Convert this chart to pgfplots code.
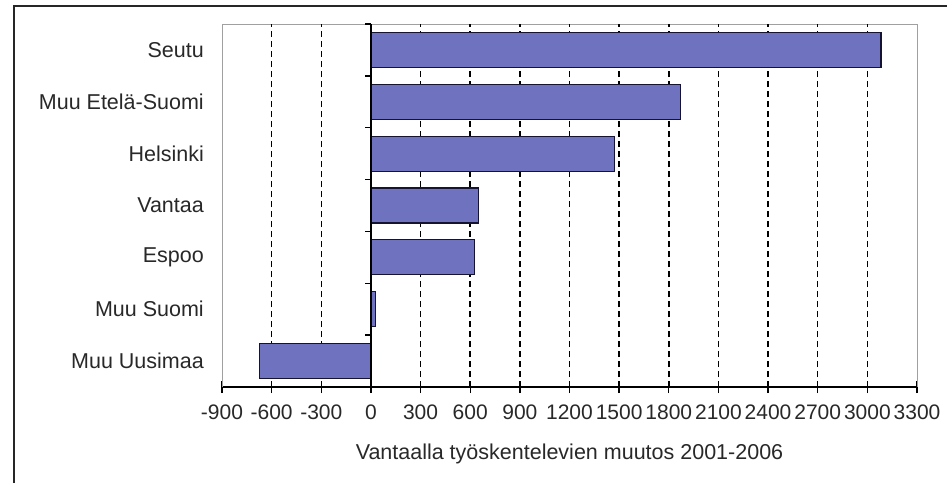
\documentclass[border=0pt]{standalone}
\usepackage{fontspec}
\setmainfont{Liberation Sans}
\usepackage{pgfplots}
\pgfplotsset{compat=1.18}
\definecolor{barfill}{RGB}{111,114,190}
\definecolor{barline}{RGB}{20,20,50}
\definecolor{framegray}{RGB}{160,160,160}
\definecolor{txt}{RGB}{40,40,40}
\begin{document}
\begin{tikzpicture}[font=\fontsize{21}{25}\selectfont]
\useasboundingbox (0,0) rectangle (947pt,483pt);
\draw[line width=1.3pt, black!85] (14pt,0pt) -- (14pt,477pt) -- (947pt,477pt);
\begin{axis}[
  at={(222pt,96pt)}, anchor=south west,
  scale only axis, width=695pt, height=363pt,
  xmin=-900, xmax=3300, ymin=-0.5, ymax=6.5,
  xbar, bar width=35pt, bar shift=0pt,
  axis x line=bottom, axis y line=left,
  x axis line style={line width=1.3pt, black, -},
  y axis line style={draw=none},
  xtick={-900,-600,...,3300},
  x tick style={line width=1.3pt, black},
  y tick style={draw=none},
  tick align=center, major tick length=12pt,
  /pgf/number format/assume math mode=true,
  /pgf/number format/1000 sep={},
  xticklabel style={yshift=-8pt, text=txt, font=\fontsize{21}{25}\selectfont},
  ytick={0,1,2,3,4,5,6},
  yticklabels={Muu Uusimaa, Muu Suomi, Espoo, Vantaa, Helsinki, Muu Etelä-Suomi, Seutu},
  yticklabel style={anchor=east, inner sep=0pt, xshift=-12pt, text=txt, font=\fontsize{21.5}{25}\selectfont},
  xlabel={Vantaalla työskentelevien muutos 2001-2006},
  xlabel style={yshift=-18pt, text=txt, font=\fontsize{21.5}{25}\selectfont},
  clip=false,
]
\draw[framegray, line width=1pt] (axis cs:-900,-0.5) -- (axis cs:-900,6.5) -- (axis cs:3300,6.5) -- (axis cs:3300,-0.5);
\pgfplotsinvokeforeach{-600,-300,300,600,900,1200,1500,1800,2100,2400,2700,3000}{
  \draw[black, line width=1.5pt, dash pattern=on 6pt off 4pt] (axis cs:#1,-0.5) -- (axis cs:#1,6.5);
}
\addplot[fill=barfill, draw=barline, line width=1.2pt] coordinates {
  (-675,0) (30,1) (628,2) (652,3) (1470,4) (1871,5) (3082,6)
};
\draw[black, line width=1.3pt] (axis cs:0,-0.5) -- (axis cs:0,6.5);
\pgfplotsinvokeforeach{0.5,1.5,2.5,3.5,4.5,5.5,6.5}{
  \draw[black, line width=1.3pt] (axis cs:0,#1) -- ([xshift=-6pt]axis cs:0,#1);
}
\end{axis}
\end{tikzpicture}
\end{document}
